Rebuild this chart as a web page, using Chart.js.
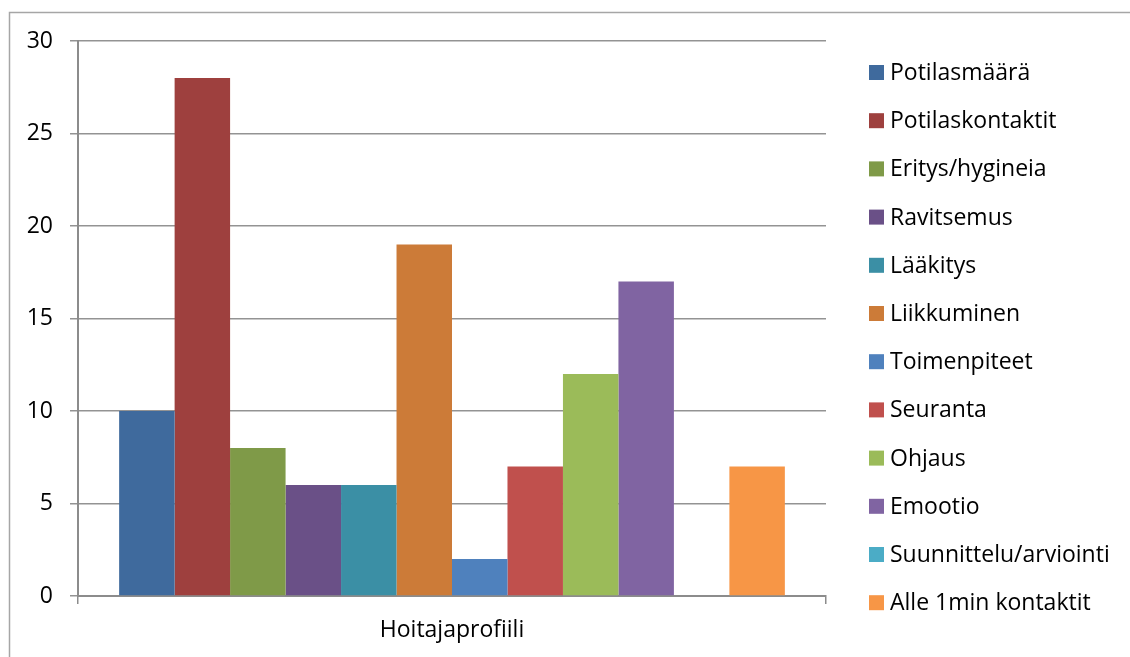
<!DOCTYPE html>
<html>
<head>
<meta charset="utf-8">
<script src="https://cdn.jsdelivr.net/npm/chart.js@4.4.1/dist/chart.umd.min.js"></script>
<style>
  html, body { margin: 0; padding: 0; background: #fff; }
  #wrap { width: 1130px; height: 657px; position: relative; }
</style>
</head>
<body>
<div id="wrap"><canvas id="chart" width="1130" height="657"></canvas></div>
<script>
// ── Data ───────────────────────────────────────────────────────────
const categories = ['Hoitajaprofiili'];
const seriesNames = [
  'Potilasmäärä', 'Potilaskontaktit', 'Eritys/hygineia', 'Ravitsemus',
  'Lääkitys', 'Liikkuminen', 'Toimenpiteet', 'Seuranta',
  'Ohjaus', 'Emootio', 'Suunnittelu/arviointi', 'Alle 1min kontaktit'
];
const seriesValues = [10, 28, 8, 6, 6, 19, 2, 7, 12, 17, 0, 7];
const seriesColors = [
  '#3F6A9D', '#9E403E', '#7F9A48', '#6A5087', '#3B8FA5', '#CC7B38',
  '#4F81BD', '#C0504D', '#9BBB59', '#8064A2', '#4BACC6', '#F79646'
];
const yTicks = { min: 0, max: 30, step: 5 };

// ── Style ──────────────────────────────────────────────────────────
const FONT = "'Open Sans', sans-serif";
const FONT_SIZE = 23;
const TEXT = '#000';
const AXIS_GRAY = '#8C8C8C';
const GRID_GRAY = '#939393';

Chart.defaults.font.family = FONT;
Chart.defaults.font.size = FONT_SIZE;
Chart.defaults.color = TEXT;

// frame round the whole chart object
const framePlugin = {
  id: 'frame',
  beforeDraw(chart) {
    const { ctx } = chart;
    ctx.save();
    ctx.strokeStyle = '#A6A6A6';
    ctx.lineWidth = 1.5;
    ctx.strokeRect(9.5, 12.5, chart.width + 20, chart.height + 20);
    ctx.restore();
  }
};

// legend column on the right: square swatch + series name
const sideLegend = {
  id: 'sideLegend',
  afterDraw(chart) {
    const { ctx } = chart;
    const x0 = 869, y0 = 72.5, pitch = 48.2, box = 15;
    ctx.save();
    ctx.font = `${FONT_SIZE}px ${FONT}`;
    ctx.textBaseline = 'middle';
    ctx.textAlign = 'left';
    chart.data.datasets.forEach((ds, i) => {
      const y = y0 + i * pitch;
      ctx.fillStyle = ds.backgroundColor;
      ctx.fillRect(x0, y - box / 2, box, box);
      ctx.fillStyle = TEXT;
      ctx.fillText(ds.label, x0 + 21, y + 1);
    });
    ctx.restore();
  }
};

const datasets = seriesNames.map((name, i) => ({
  label: name,
  data: [seriesValues[i]],
  backgroundColor: seriesColors[i],
  borderWidth: 0,
  barPercentage: 1,
  categoryPercentage: 0.89
}));

new Chart(document.getElementById('chart'), {
  type: 'bar',
  data: { labels: categories, datasets },
  options: {
    responsive: false,
    animation: false,
    layout: { padding: { left: 0, top: 41, right: 304, bottom: 0 } },
    plugins: {
      legend: { display: false },
      tooltip: { enabled: false }
    },
    scales: {
      x: {
        offset: true,
        grid: {
          offset: true,
          drawOnChartArea: false,
          drawTicks: true,
          tickLength: 8,
          color: AXIS_GRAY,
          lineWidth: 1.5
        },
        border: { display: true, color: AXIS_GRAY, width: 2 },
        ticks: { padding: 13, color: TEXT },
        afterFit: (s) => { s.height = 61; }
      },
      y: {
        min: yTicks.min,
        max: yTicks.max,
        grid: {
          color: GRID_GRAY,
          lineWidth: 1.5,
          drawTicks: true,
          tickLength: 8
        },
        border: { display: true, color: AXIS_GRAY, width: 2 },
        ticks: { stepSize: yTicks.step, padding: 17, color: TEXT },
        afterFit: (s) => { s.width = 78; }
      }
    }
  },
  plugins: [framePlugin, sideLegend]
});
</script>
</body>
</html>
